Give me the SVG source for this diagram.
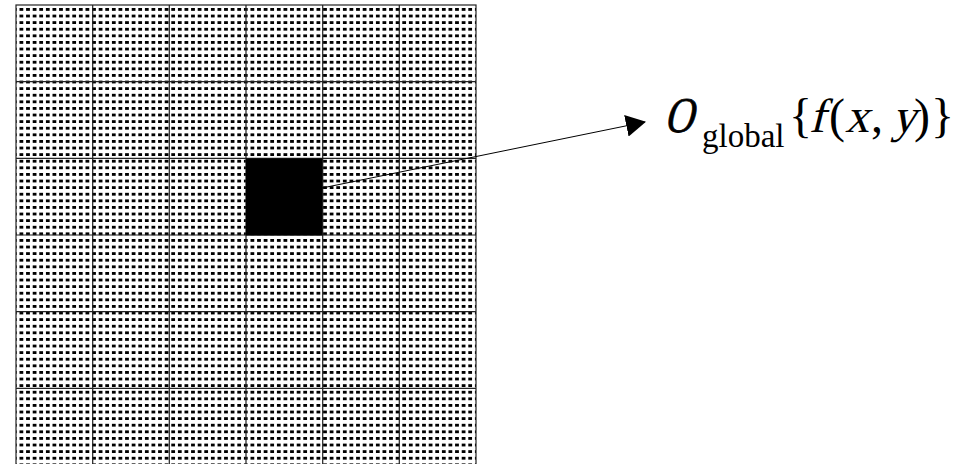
<svg xmlns="http://www.w3.org/2000/svg" width="959" height="464" viewBox="0 0 959 464">
<style>
.grid{stroke:#222;stroke-width:1.2;fill:none}
.t{font-family:"Liberation Serif","Times New Roman",serif;fill:#000}
</style>
<defs>
<pattern id="dots" patternUnits="userSpaceOnUse" x="19.5" y="8" width="6.6" height="6.6">
<rect x="0" y="0" width="3.4" height="2.9" fill="#000" shape-rendering="crispEdges"/>
</pattern>
<marker id="arr" markerWidth="20" markerHeight="22" refX="19" refY="11" orient="auto" markerUnits="userSpaceOnUse">
<path d="M0,0 L20,11 L0,22 Z" fill="#000"/>
</marker>
</defs>
<rect width="959" height="464" fill="#fff"/>
<g id="grid">
<rect x="16" y="5" width="460" height="462" fill="url(#dots)"/>
<g class="grid">
<rect x="16" y="5" width="460" height="462"/>
<path d="M92.7,5V467M169.3,5V467M246,5V467M322.7,5V467M399.3,5V467"/>
<path d="M16,81.7H476M16,158.3H476M16,235H476M16,311.7H476M16,388.3H476"/>
</g>
</g>
<g id="cell">
<rect x="246" y="158.5" width="76.5" height="77" fill="#000"/>
</g>
<g id="connectors">
<line x1="322" y1="188" x2="645" y2="122" stroke="#000" stroke-width="1" marker-end="url(#arr)"/>
</g>
<g id="label">
<text class="t" font-size="50" stroke="#000" stroke-width="0.8" transform="translate(664,132) skewX(-14) scale(0.8,1)">O</text>
<text class="t" font-size="33" x="702" y="147">global</text>
<text class="t" font-size="48" x="789" y="132">{</text>
<text class="t" font-size="48" transform="translate(809,132) skewX(-14)">f</text>
<text class="t" font-size="48" x="829" y="132">(</text>
<text class="t" font-size="48" transform="translate(845,132) skewX(-14)">x</text>
<text class="t" font-size="48" x="871" y="132">,</text>
<text class="t" font-size="48" transform="translate(892,132) skewX(-14)">y</text>
<text class="t" font-size="48" x="914" y="132">)</text>
<text class="t" font-size="48" x="931" y="132">}</text>
</g>
</svg>
